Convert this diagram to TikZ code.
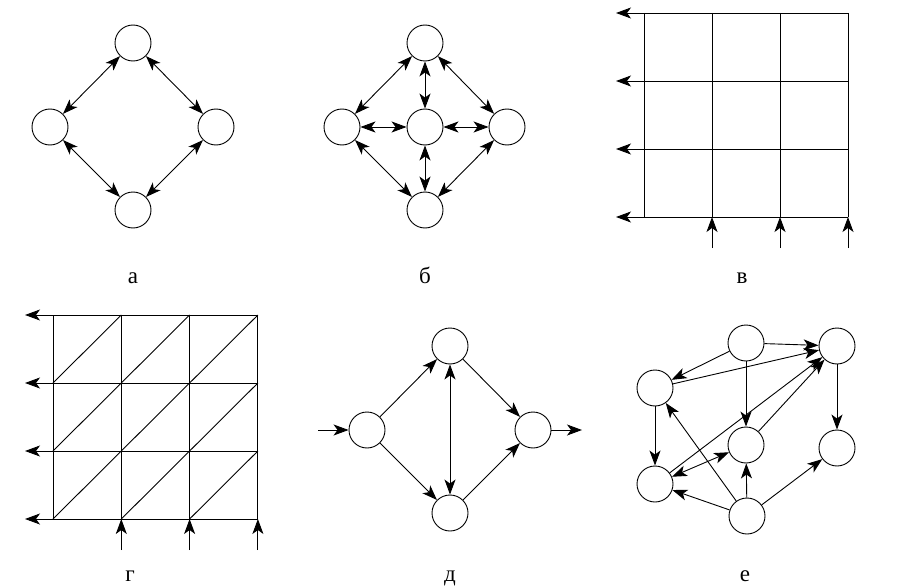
\documentclass[tikz,border=0pt]{standalone}
\usepackage{fontspec}
\setmainfont{Liberation Serif}
\usetikzlibrary{arrows.meta, positioning}

\tikzset{
  vertex/.style={circle, draw, line width=0.9pt, minimum size=36pt, inner sep=0pt},
  link/.style={line width=0.9pt, -{Stealth[length=15pt,width=11pt,inset=4pt]}},
  dlink/.style={line width=0.9pt, {Stealth[length=15pt,width=11pt,inset=4pt]}-{Stealth[length=15pt,width=11pt,inset=4pt]}},
  gridline/.style={line width=0.9pt},
  caption/.style={font=\fontsize{23}{23}\selectfont, anchor=base}
}

\begin{document}
\begin{tikzpicture}[x=1pt, y=-1pt]
\useasboundingbox (0,0) rectangle (903,586);

% a
\node[vertex] (aT) at (133,43) {};
\node[vertex] (aL) at (50,127) {};
\node[vertex] (aR) at (216,127) {};
\node[vertex] (aB) at (133,210) {};
\draw[dlink] (aT) -- (aL);
\draw[dlink] (aT) -- (aR);
\draw[dlink] (aL) -- (aB);
\draw[dlink] (aR) -- (aB);
\node[caption] (capA) at (133,283) {а};

% b
\node[vertex] (bT) at (425,43) {};
\node[vertex] (bL) at (342,127) {};
\node[vertex] (bC) at (425,127) {};
\node[vertex] (bR) at (507,127) {};
\node[vertex] (bB) at (425,210) {};
\foreach \u/\v in {bT/bL, bT/bC, bT/bR, bL/bC, bC/bR, bL/bB, bC/bB, bR/bB}
  \draw[dlink] (\u) -- (\v);
\node[caption] (capB) at (425,283) {б};

% v: square grid
\foreach \i in {0,...,3} {
  \draw[gridline] (644+68*\i,13) -- (644+68*\i,217);
  \coordinate (vW\i) at (616,13+68*\i);
  \draw[link] (848,13+68*\i) -- (vW\i);
}
\foreach \i in {1,2,3} {
  \coordinate (vS\i) at (644+68*\i,248);
  \coordinate (vN\i) at (644+68*\i,217);
  \draw[link] (vS\i) -- (vN\i);
}
\node[caption] (capV) at (742,283) {в};

% g: triangulated grid
\foreach \i in {0,...,3} {
  \draw[gridline] (53+68.3*\i,315) -- (53+68.3*\i,519);
  \coordinate (gW\i) at (25,315+68*\i);
  \draw[link] (258,315+68*\i) -- (gW\i);
}
\foreach \i in {0,1,2}
  \foreach \j in {0,1,2}
    \draw[gridline] (53+68.3*\i,383+68*\j) -- (121.3+68.3*\i,315+68*\j);
\foreach \i in {1,2,3} {
  \coordinate (gS\i) at (53+68.3*\i,550);
  \coordinate (gN\i) at (53+68.3*\i,519);
  \draw[link] (gS\i) -- (gN\i);
}
\node[caption] (capG) at (130,581) {г};

% d
\node[vertex] (dL) at (367,430) {};
\node[vertex] (dT) at (450,346) {};
\node[vertex] (dB) at (450,513) {};
\node[vertex] (dR) at (533,430) {};
\coordinate (dIn) at (318,430);
\coordinate (dOut) at (582,430);
\draw[link] (dIn) -- (dL);
\draw[link] (dL) -- (dT);
\draw[link] (dL) -- (dB);
\draw[dlink] (dT) -- (dB);
\draw[link] (dT) -- (dR);
\draw[link] (dB) -- (dR);
\draw[link] (dR) -- (dOut);
\node[caption] (capD) at (450,581) {д};

% e
\node[vertex] (eA) at (746,343) {};
\node[vertex] (eB) at (837,346) {};
\node[vertex] (eC) at (655,388) {};
\node[vertex] (eD) at (746,445) {};
\node[vertex] (eE) at (837,448) {};
\node[vertex] (eF) at (655,484) {};
\node[vertex] (eG) at (747,516) {};
\foreach \u/\v in {eA/eB, eA/eC, eC/eB, eA/eD, eB/eE, eC/eF, eF/eB, eD/eB, eG/eF, eG/eC, eG/eD, eG/eE}
  \draw[link] (\u) -- (\v);
\draw[dlink] (eF) -- (eD);
\node[caption] (capE) at (745,581) {е};

\end{tikzpicture}
\end{document}
